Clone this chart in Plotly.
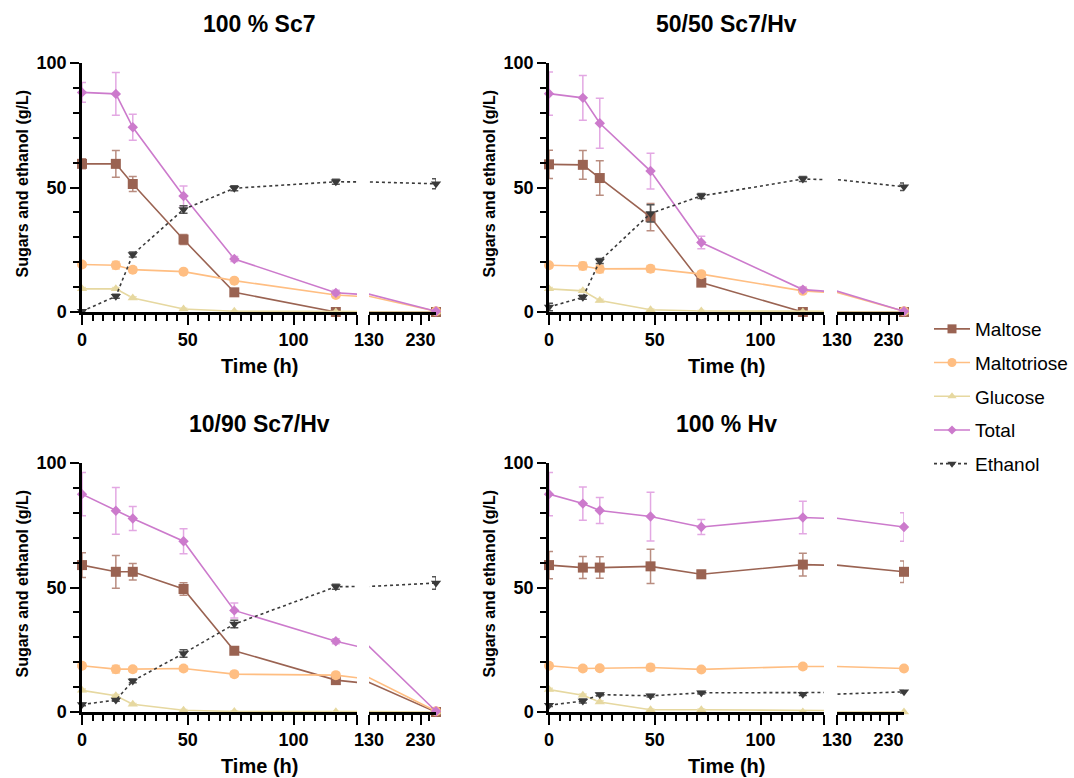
import plotly.graph_objects as go

# ---------------- data ----------------
times = [0, 16, 24, 48, 72, 120, 260]
series_names = ["Maltose", "Maltotriose", "Glucose", "Total", "Ethanol"]
panel_titles = ["100 % Sc7", "50/50 Sc7/Hv", "10/90 Sc7/Hv", "100 % Hv"]
x_tick_vals_left = [0, 50, 100]
x_tick_vals_right = [130, 230]
y_tick_vals = [0, 50, 100]

# 100 % Sc7
sc7_maltose = [59.5, 59.5, 51.4, 29.1, 7.9, 0.0, 0.0]
sc7_maltose_err = [2, 5.4, 3, 2, 1, 0.5, 0.5]
sc7_maltotriose = [19.1, 18.8, 17.0, 16.2, 12.6, 6.8, 0.3]
sc7_maltotriose_err = [1, 1.5, 1, 0.8, 0.8, 0.8, 0.3]
sc7_glucose = [9.3, 9.3, 5.6, 1.2, 0.3, 0.0, 0.0]
sc7_glucose_err = [0.5, 0.5, 0.5, 0.3, 0.2, 0, 0]
sc7_total = [88.2, 87.6, 74.2, 46.6, 21.3, 7.7, 0.3]
sc7_total_err = [4, 8.6, 5.2, 4, 1, 1, 0.5]
sc7_ethanol = [0.3, 6.3, 23.1, 41.2, 49.7, 52.3, 51.5]
sc7_ethanol_err = [0.5, 0.8, 1, 1.5, 1, 1, 2]

# 50/50 Sc7/Hv
mix50_maltose = [59.3, 59.1, 53.8, 38.1, 11.8, 0.0, 0.0]
mix50_maltose_err = [5.7, 5.8, 6.9, 5.5, 1.5, 0.5, 0.5]
mix50_maltotriose = [18.8, 18.5, 17.3, 17.4, 15.2, 8.5, 0.3]
mix50_maltotriose_err = [1, 1.5, 1.5, 1.3, 1, 0.8, 0.3]
mix50_glucose = [9.3, 8.5, 4.6, 0.9, 0.4, 0.0, 0.0]
mix50_glucose_err = [0.5, 0.5, 0.5, 0.3, 0.2, 0, 0]
mix50_total = [87.7, 86.0, 75.8, 56.6, 27.9, 9.0, 0.3]
mix50_total_err = [8.7, 9, 10, 7.2, 2.5, 1, 0.5]
mix50_ethanol = [2.0, 5.9, 20.5, 39.6, 46.6, 53.4, 50.3]
mix50_ethanol_err = [1.5, 0.8, 1, 3.5, 1, 1, 1.5]

# 10/90 Sc7/Hv
mix10_maltose = [59.0, 56.3, 56.3, 49.4, 24.6, 12.8, 0.0]
mix10_maltose_err = [5, 6.6, 3.3, 2.5, 1, 0.5, 0.5]
mix10_maltotriose = [18.6, 17.2, 17.2, 17.5, 15.2, 14.8, 0.3]
mix10_maltotriose_err = [1, 1.5, 1, 1, 1, 1, 0.3]
mix10_glucose = [8.7, 6.5, 3.1, 0.7, 0.2, 0.1, 0.0]
mix10_glucose_err = [0.5, 0.5, 0.3, 0.3, 0.2, 0, 0]
mix10_total = [87.5, 80.8, 77.7, 68.6, 40.8, 28.4, 0.3]
mix10_total_err = [8.7, 9.4, 4.8, 5, 3, 1, 0.5]
mix10_ethanol = [3.0, 4.8, 12.5, 23.5, 35.3, 50.3, 51.8]
mix10_ethanol_err = [0.5, 0.5, 0.8, 1.5, 1.5, 1, 2.5]

# 100 % Hv
hv_maltose = [59.0, 58.0, 58.0, 58.5, 55.3, 59.2, 56.3]
hv_maltose_err = [5.5, 4.4, 4.3, 6.9, 1.5, 4.6, 4.3]
hv_maltotriose = [18.6, 17.5, 17.6, 17.9, 17.1, 18.3, 17.5]
hv_maltotriose_err = [1, 1, 0.8, 1.3, 0.8, 1, 0.8]
hv_glucose = [9.0, 6.7, 4.0, 0.9, 0.9, 0.0, 0.0]
hv_glucose_err = [0.5, 0.5, 0.5, 0.3, 0.3, 0, 0]
hv_total = [87.5, 83.7, 80.9, 78.5, 74.3, 78.1, 74.3]
hv_total_err = [8.7, 6.7, 5.2, 9.8, 3, 6.5, 5.7]
hv_ethanol = [2.7, 4.4, 7.0, 6.5, 7.7, 7.1, 8.1]
hv_ethanol_err = [0.5, 0.8, 0.5, 0.5, 0.5, 0.5, 0.5]

# ---------------- styles ----------------
styles = {
    "Maltose": dict(color="#9A6352", err="#B98D80", symbol="square", size=10, dash="solid"),
    "Maltotriose": dict(color="#FFBE82", err="#FFCFA0", symbol="circle", size=10, dash="solid"),
    "Glucose": dict(color="#E6D8A0", err="#EEE2B8", symbol="triangle-up", size=9, dash="solid"),
    "Total": dict(color="#CC7ACC", err="#E3A8E3", symbol="diamond", size=8, dash="solid"),
    "Ethanol": dict(color="#3A3A3A", err="#555555", symbol="triangle-down", size=9, dash="3px,3px"),
}

panels = [
    (panel_titles[0], [sc7_maltose, sc7_maltotriose, sc7_glucose, sc7_total, sc7_ethanol],
     [sc7_maltose_err, sc7_maltotriose_err, sc7_glucose_err, sc7_total_err, sc7_ethanol_err]),
    (panel_titles[1], [mix50_maltose, mix50_maltotriose, mix50_glucose, mix50_total, mix50_ethanol],
     [mix50_maltose_err, mix50_maltotriose_err, mix50_glucose_err, mix50_total_err, mix50_ethanol_err]),
    (panel_titles[2], [mix10_maltose, mix10_maltotriose, mix10_glucose, mix10_total, mix10_ethanol],
     [mix10_maltose_err, mix10_maltotriose_err, mix10_glucose_err, mix10_total_err, mix10_ethanol_err]),
    (panel_titles[3], [hv_maltose, hv_maltotriose, hv_glucose, hv_total, hv_ethanol],
     [hv_maltose_err, hv_maltotriose_err, hv_glucose_err, hv_total_err, hv_ethanol_err]),
]

W, H = 1074, 778
FONT = "Liberation Sans, Arial, sans-serif"

# pixel layout of each panel
cols = [(82, 357, 369, 436), (549, 824, 837, 904)]
rows = [(63, 312), (463, 712)]

fig = go.Figure()
layout = dict(
    width=W, height=H, margin=dict(l=0, r=0, t=0, b=0, pad=0, autoexpand=False),
    paper_bgcolor="white", plot_bgcolor="white", showlegend=True,
    font=dict(family=FONT, color="black"),
)
annotations = []

for p, (title, vals_list, errs_list) in enumerate(panels):
    c = cols[p % 2]
    r = rows[p // 2]
    xl, xr = 2 * p + 1, 2 * p + 2
    yi = p + 1
    xl_name = "xaxis" if xl == 1 else f"xaxis{xl}"
    xr_name = f"xaxis{xr}"
    y_name = "yaxis" if yi == 1 else f"yaxis{yi}"
    xl_ref = "x" if xl == 1 else f"x{xl}"
    xr_ref = f"x{xr}"
    y_ref = "y" if yi == 1 else f"y{yi}"

    ydom = [1 - r[1] / H, 1 - r[0] / H]
    axis_common = dict(showline=True, linecolor="black", linewidth=2.5, ticks="outside",
                       tickwidth=2, tickcolor="black", showgrid=False, zeroline=False,
                       automargin=False,
                       tickfont=dict(family=FONT, size=18, color="black", weight="bold"))
    layout[xl_name] = dict(domain=[c[0] / W, c[1] / W], range=[0, 130], anchor=y_ref,
                           tickvals=x_tick_vals_left + [130],
                           ticktext=[str(v) for v in x_tick_vals_left] + [""],
                           ticklen=10,
                           minor=dict(dtick=5, tick0=0, ticklen=6, tickwidth=2, tickcolor="black", ticks="outside"),
                           **axis_common)
    layout[xr_name] = dict(domain=[c[2] / W, c[3] / W], range=[130, 260], anchor=y_ref,
                           tickvals=x_tick_vals_right, ticktext=[str(v) for v in x_tick_vals_right],
                           ticklen=10,
                           minor=dict(dtick=100 / 6, tick0=130, ticklen=6, tickwidth=2, tickcolor="black", ticks="outside"),
                           **axis_common)
    layout[y_name] = dict(domain=ydom, range=[0, 100], anchor=xl_ref,
                          tickvals=y_tick_vals, ticklen=9,
                          minor=dict(dtick=10, ticklen=6, tickwidth=2, tickcolor="black", ticks="outside"),
                          **axis_common)

    for name, vals, errs in zip(series_names, vals_list, errs_list):
        st = styles[name]
        for xref, keep in ((xl_ref, lambda t: t <= 130), (xr_ref, lambda t: t >= 130)):
            fig.add_trace(go.Scatter(
                x=times, y=vals, mode="lines", xaxis=xref, yaxis=y_ref,
                line=dict(color=st["color"], width=1.6, dash=st["dash"]),
                showlegend=False, hoverinfo="skip"))
            idx = [i for i, t in enumerate(times) if keep(t)]
            fig.add_trace(go.Scatter(
                x=[times[i] for i in idx], y=[vals[i] for i in idx], mode="markers",
                xaxis=xref, yaxis=y_ref, cliponaxis=False,
                marker=dict(symbol=st["symbol"], size=st["size"], color=st["color"]),
                error_y=dict(type="data", array=[errs[i] for i in idx], visible=True,
                             color=st["err"], thickness=1.5, width=4),
                showlegend=False))

    cx = ((c[0] + c[3]) / 2) / W
    annotations.append(dict(text=f"<b>{title}</b>", x=cx, y=1 - (r[0] - 39) / H, xref="paper", yref="paper",
                            xanchor="center", yanchor="middle", showarrow=False,
                            font=dict(family=FONT, size=23, color="black")))
    annotations.append(dict(text="<b>Time (h)</b>", x=cx, y=1 - (r[1] + 54) / H, xref="paper", yref="paper",
                            xanchor="center", yanchor="middle", showarrow=False,
                            font=dict(family=FONT, size=20, color="black")))
    annotations.append(dict(text="<b>Sugars and ethanol (g/L)</b>", x=(c[0] - 60) / W,
                            y=1 - ((r[0] + r[1]) / 2 - 4) / H, xref="paper", yref="paper",
                            xanchor="center", yanchor="middle", textangle=-90, showarrow=False,
                            font=dict(family=FONT, size=16, color="black")))

# legend-only traces
for k, name in enumerate(series_names):
    st = styles[name]
    fig.add_trace(go.Scatter(
        x=[None], y=[None], mode="lines+markers", name=name, xaxis="x", yaxis="y",
        legendgroup=f"g{k}",
        line=dict(color=st["color"], width=1.6, dash=st["dash"]),
        marker=dict(symbol=st["symbol"], size=st["size"] - 1, color=st["color"])))

layout["legend"] = dict(x=929 / W, y=1 - 310 / H, xanchor="left", yanchor="top",
                        font=dict(family=FONT, size=19, color="black"),
                        tracegroupgap=6, itemwidth=36, bgcolor="rgba(0,0,0,0)")
layout["annotations"] = annotations
fig.update_layout(**layout)

fig.write_html("out.html", config={"displayModeBar": False},
               post_script="document.body.style.margin='0';document.body.style.overflow='hidden';")
